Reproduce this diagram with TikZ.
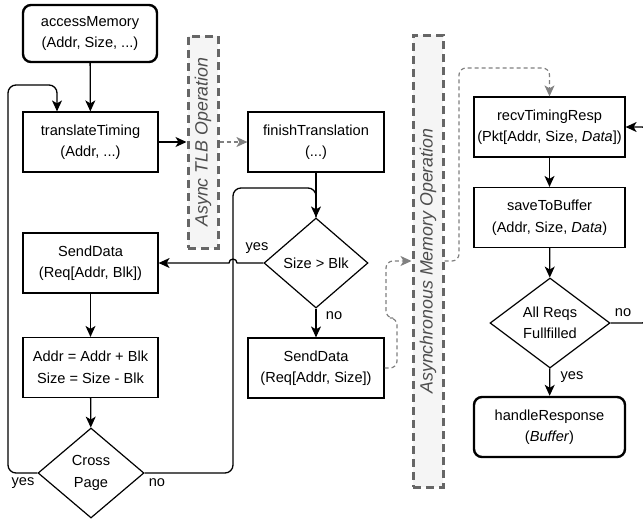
\documentclass[tikz,border=0pt]{standalone}
\usepackage{fontspec}
\setmainfont{Liberation Sans}
\usepackage{xcolor}
\usetikzlibrary{positioning}
\usetikzlibrary{shapes.geometric}
\usetikzlibrary{arrows.meta}
\definecolor{asyncline}{HTML}{666666}
\definecolor{asyncfill}{HTML}{F5F5F5}
\definecolor{asynctxt}{HTML}{4D4D4D}
\definecolor{callgray}{HTML}{808080}
\tikzset{edge/.style = {-{Stealth[length=11pt,width=10pt,inset=3pt]}}}

\begin{document}
\begin{tikzpicture}[x=1pt,y=-1pt,line width=1.3pt,font=\fontsize{14.6}{21.5}\selectfont,
    box/.style={rectangle,draw,align=center,inner sep=0pt,line width=1.2pt,minimum width=135pt,minimum height=60pt},
    term/.style={box,rounded corners=8pt,line width=2.4pt},
    cond/.style={diamond,draw,align=center,inner sep=0pt,line width=1.2pt},
    asyncbox/.style={rectangle,draw=asyncline,fill=asyncfill,line width=3pt,dash pattern=on 8pt off 5pt,inner sep=0pt,minimum width=30pt},
    asynctext/.style={rotate=90,text=asynctxt,font=\fontsize{17.8}{20}\selectfont\itshape},
    callback/.style={edge,draw=callgray,line width=1.2pt,dash pattern=on 4pt off 3pt,rounded corners=7pt},
    lab/.style={inner sep=0pt}]
                \useasboundingbox (0,0) rectangle (643,520);

                % left column
                \node[term, minimum width=134pt, minimum height=57pt] (mem) at (90,33.5) {accessMemory\\(Addr, Size, ...)};
                \node[box] (tlt) at (90.5,142) {translateTiming\\(Addr, ...)};
                \node[box] (sdblk) at (90.5,263) {SendData\\(Req[Addr, Blk])};
                \node[box] (upd) at (90.5,367.5) {Addr = Addr + Blk\\Size = Size - Blk};
                \node[cond, minimum width=106pt, minimum height=90pt] (cross) at (91,473) {Cross\\Page};

                % middle column
                \node[asyncbox, minimum height=212pt] (tlb) at (203,142) {};
                \node[asynctext] at (tlb.center) {Async TLB Operation};
                \node[box, minimum width=136pt] (ft) at (316,142) {finishTranslation\\(...)};
                \node[cond, minimum width=104pt, minimum height=90pt] (big) at (316,263) {Size > Blk};
                \node[box, minimum width=136pt] (sdsize) at (316,368) {SendData\\(Req[Addr, Size])};

                % right column
                \node[asyncbox, minimum height=452pt] (mop) at (428,261) {};
                \node[asynctext] at (mop.center) {Asynchronous Memory Operation};
                \node[box, minimum width=151pt] (recv) at (549.5,127) {recvTimingResp\\(Pkt[Addr, Size, \textit{Data}])};
                \node[box, minimum width=151pt] (save) at (549.5,217.5) {saveToBuffer\\(Addr, Size, \textit{Data})};
                \node[cond, minimum width=120pt, minimum height=90pt] (all) at (550,323) {All Reqs\\Fullfilled};
                \node[term, minimum width=151pt] (resp) at (549.5,427) {handleResponse\\(\textit{Buffer})};

                % labels
                \node[lab] at (257,248) {yes};
                \node[lab] at (334,316) {no};
                \node[lab] at (23,483) {yes};
                \node[lab] at (157,483) {no};
                \node[lab] at (623,313) {no};
                \node[lab] at (572,377) {yes};

                \path[edge] (mem) edge (tlt);
                \path[edge] (tlt) edge (tlb);
                \path[edge] (ft) edge (big);
                \path[edge] (sdblk) edge (upd);
                \path[edge] (upd) edge (cross);
                \path[edge] (big) edge (sdsize);
                \path[edge] (recv) edge (save);
                \path[edge] (save) edge (all);
                \path[edge] (all) edge (resp);

                \draw[edge, rounded corners=8pt] (cross.west) -| (8,85) -| ([xshift=-33.5pt]tlt.north);
                \draw[rounded corners=8pt] (cross.east) -| (233,188) -| (big.north);
                \draw[edge] (big.west) -- (237,263) arc[start angle=0, end angle=-180, radius=4] -- (sdblk.east);
                \draw[edge, rounded corners=6pt] (all.east) -- (648,323) -- (648,127) -- (recv.east);

                \draw[callback] (tlb.east) -- (ft.west);
                \draw[callback] (sdsize.east) -- (397,368) -- (397,318) -- (386,318) -- (386,261) -- (mop.west);
                \draw[callback] (mop.east) -- (459,261) -- (459,68) -- (549.5,68) -- (recv.north);
            \end{tikzpicture}
\end{document}
